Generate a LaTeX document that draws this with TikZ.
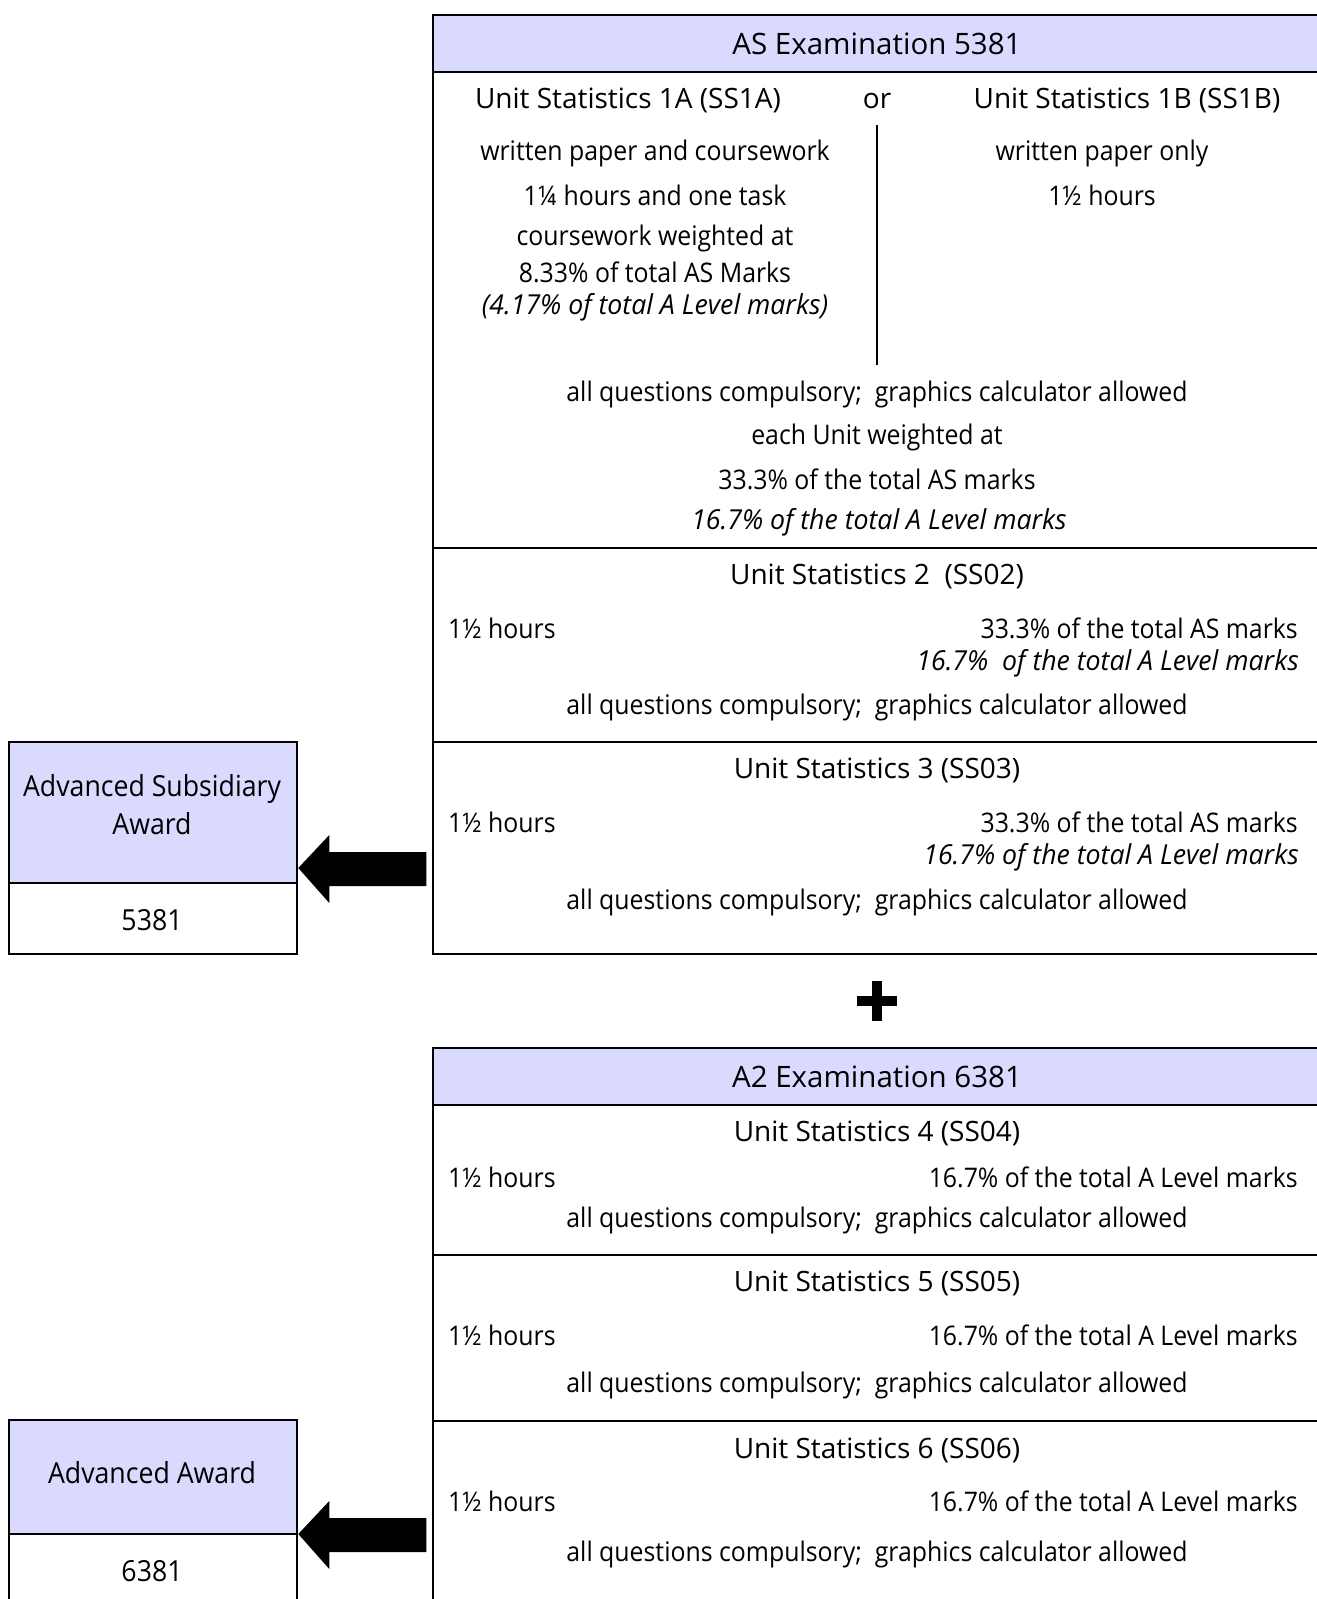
\documentclass[tikz,border=0pt]{standalone}
\usepackage{fontspec}
\setmainfont{Open Sans}[FakeStretch=0.92]
\newfontfamily\wideF{Open Sans}[FakeStretch=1.0]
\newfontfamily\itF{Open Sans}[FakeStretch=0.97]
\definecolor{lav}{RGB}{218,218,255}
\begin{document}
\begin{tikzpicture}[x=1pt,y=-1pt,
  every node/.style={font=\fontsize{27}{35}\selectfont, inner sep=0pt},
  cell/.style={draw, line width=2.3pt, anchor=north west, minimum width=890pt},
  headcell/.style={cell, fill=lav},
  awcell/.style={draw, line width=2.3pt, anchor=north west, minimum width=288pt},
  txt/.style={align=center},
  lt/.style={anchor=west},
  rt/.style={anchor=east},
  it/.style={font=\itF\fontsize{27.5}{35}\selectfont\itshape},
  unith/.style={font=\wideF\fontsize{28}{35}\selectfont},
  examh/.style={font=\wideF\fontsize{29.5}{35}\selectfont},
  awt/.style={font=\fontsize{29}{38}\selectfont, align=center},
  blockarrow/.style={fill=black}
]
\useasboundingbox (0,0) rectangle (1317,1599);
\clip (0,0) rectangle (1317,1599);

% ---------- AS examination box ----------
\node[headcell, minimum height=57pt] (ashead) at (432,14) {};
\node[cell, minimum height=476pt] (as1) at (432,71) {};
\node[cell, minimum height=194pt] (as2) at (432,547) {};
\node[cell, minimum height=212pt] (as3) at (432,741) {};

\node[examh] (ast) at (877,44) {AS Examination 5381};
\node[unith] (u1a) at (628,100) {Unit Statistics 1A (SS1A)};
\node[unith] (or) at (877,101) {or};
\node[unith] (u1b) at (1127,100) {Unit Statistics 1B (SS1B)};
\coordinate (vtop) at (877,125);
\coordinate (vbot) at (877,365);
\draw[line width=1.6pt] (vtop) -- (vbot);
\node (a1) at (655,153) {written paper and coursework};
\node (a2) at (655,195) {1¼ hours and one task};
\node (a3) at (655,238) {coursework weighted at};
\node (a4) at (655,272) {8.33\% of total AS Marks};
\node[it] (a5) at (655,307) {(4.17\% of total A Level marks)};
\node (b1) at (1102,153) {written paper only};
\node (b2) at (1102,195) {1½ hours};
\node (c1) at (877,394) {all questions compulsory;\ \ graphics calculator allowed};
\node (c2) at (877,437) {each Unit weighted at};
\node (c3) at (877,479) {33.3\% of the total AS marks};
\node[it] (c4) at (879,522) {16.7\% of the total A Level marks};

\node[unith] (u2) at (877,576) {Unit Statistics 2\ \ (SS02)};
\node[lt] (u2h) at (448,628) {1½ hours};
\node[rt] (u2p) at (1298,628) {33.3\% of the total AS marks};
\node[rt,it] (u2q) at (1299,663) {16.7\%\ \ of the total A Level marks};
\node (u2c) at (877,707) {all questions compulsory;\ \ graphics calculator allowed};

\node[unith] (u3) at (877,770) {Unit Statistics 3 (SS03)};
\node[lt] (u3h) at (448,822) {1½ hours};
\node[rt] (u3p) at (1298,822) {33.3\% of the total AS marks};
\node[rt,it] (u3q) at (1299,857) {16.7\% of the total A Level marks};
\node (u3c) at (877,902) {all questions compulsory;\ \ graphics calculator allowed};

% ---------- plus ----------
\coordinate (plus) at (877,1001);
\fill ([shift={(-20,-5)}]plus) rectangle ([shift={(20,5)}]plus);
\fill ([shift={(-5,-20)}]plus) rectangle ([shift={(5,20)}]plus);

% ---------- A2 examination box ----------
\node[headcell, minimum height=57pt] (a2head) at (432,1047) {};
\node[cell, minimum height=150pt] (a24) at (432,1104) {};
\node[cell, minimum height=166pt] (a25) at (432,1254) {};
\node[cell, minimum height=200pt] (a26) at (432,1420) {};

\node[examh] (a2t) at (877,1077) {A2 Examination 6381};
\node[unith] (u4) at (877,1133) {Unit Statistics 4 (SS04)};
\node[lt] (u4h) at (448,1177) {1½ hours};
\node[rt] (u4p) at (1298,1177) {16.7\% of the total A Level marks};
\node (u4c) at (877,1220) {all questions compulsory;\ \ graphics calculator allowed};

\node[unith] (u5) at (877,1283) {Unit Statistics 5 (SS05)};
\node[lt] (u5h) at (448,1335) {1½ hours};
\node[rt] (u5p) at (1298,1335) {16.7\% of the total A Level marks};
\node (u5c) at (877,1385) {all questions compulsory;\ \ graphics calculator allowed};

\node[unith] (u6) at (877,1450) {Unit Statistics 6 (SS06)};
\node[lt] (u6h) at (448,1501) {1½ hours};
\node[rt] (u6p) at (1298,1501) {16.7\% of the total A Level marks};
\node (u6c) at (877,1554) {all questions compulsory;\ \ graphics calculator allowed};

% ---------- award boxes ----------
\node[awcell, fill=lav, minimum height=141pt] (asaw) at (8,741) {};
\node[awcell, minimum height=71pt] (asnum) at (8,882) {};
\node[awt] (asawt) at (152,805) {Advanced Subsidiary\\Award};
\node[awt] (asnumt) at (152,920) {5381};

\node[awcell, fill=lav, minimum height=114pt] (aaw) at (8,1419) {};
\node[awcell, minimum height=100pt] (aanum) at (8,1533) {};
\node[awt] (aawt) at (152,1473) {Advanced Award};
\node[awt] (aanumt) at (152,1571) {6381};

% ---------- block arrows ----------
\fill[blockarrow] (asaw.east |- 0,868) -- ++(31,-33) -- ++(0,17) -- ++(97,0) -- ++(0,34) -- ++(-97,0) -- ++(0,17) -- cycle;
\fill[blockarrow] (aaw.east |- 0,1534) -- ++(31,-33) -- ++(0,17) -- ++(97,0) -- ++(0,34) -- ++(-97,0) -- ++(0,17) -- cycle;
\end{tikzpicture}
\end{document}
